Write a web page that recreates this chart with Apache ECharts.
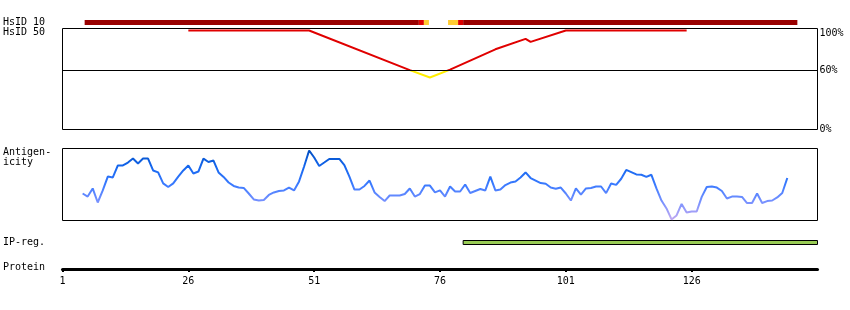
<!DOCTYPE html>
<html><head><meta charset="utf-8">
<script src="https://cdn.jsdelivr.net/npm/echarts@6/dist/echarts.min.js"></script>
<style>html,body{margin:0;padding:0;background:#fff}#c{width:850px;height:310px}</style>
</head><body><div id="c"></div>
<script>
// ---------------- data ----------------
const proteinMin = 1;
const proteinMax = 151;
const proteinTicks = [1, 26, 51, 76, 101, 126];

// HsID 10 identity bar segments (residue start / end / identity level)
const hsid10Start = [5.4, 71.8, 72.8, 77.6, 79.6, 80.6];
const hsid10End   = [71.8, 72.8, 73.8, 79.6, 80.6, 147.0];
const hsid10Level = ['high', 'mid', 'low', 'low', 'mid', 'high'];

// HsID 50 identity curve (residue, percent identity)
const hsid50Residue = [26, 50, 70, 74, 78, 87, 93, 94, 101, 125];
const hsid50Percent = [100, 100, 60, 52.5, 60.5, 81, 91.5, 88.5, 100, 100];
const identityTicks = [0, 60, 100];
const identityThreshold = 60;

// Antigenicity profile, one value per residue starting at antigenStart
const antigenStart = 5;
const antigenicity = [
  -0.5, -0.67, -0.22, -1.0, -0.33, 0.44, 0.39, 1.06, 1.06, 1.22,
  1.44, 1.17, 1.44, 1.44, 0.78, 0.67, 0.06, -0.14, 0.06, 0.44,
  0.78, 1.06, 0.61, 0.72, 1.44, 1.25, 1.33, 0.67, 0.42, 0.11,
  -0.08, -0.17, -0.19, -0.5, -0.83, -0.89, -0.86, -0.58, -0.44, -0.36,
  -0.33, -0.17, -0.33, 0.17, 1.0, 1.89, 1.5, 1.03, 1.22, 1.42,
  1.42, 1.42, 1.08, 0.44, -0.28, -0.28, -0.08, 0.22, -0.44, -0.69,
  -0.92, -0.61, -0.61, -0.61, -0.53, -0.22, -0.67, -0.53, -0.06, -0.06,
  -0.44, -0.33, -0.67, -0.11, -0.39, -0.39, 0.0, -0.47, -0.36, -0.25,
  -0.33, 0.44, -0.33, -0.28, -0.03, 0.11, 0.17, 0.39, 0.67, 0.36,
  0.22, 0.08, 0.04, -0.17, -0.24, -0.17, -0.5, -0.89, -0.22, -0.56,
  -0.22, -0.19, -0.11, -0.11, -0.48, 0.06, -0.02, 0.32, 0.81, 0.69,
  0.56, 0.54, 0.42, 0.54, -0.22, -0.89, -1.33, -1.94, -1.72, -1.08,
  -1.56, -1.5, -1.5, -0.69, -0.14, -0.11, -0.17, -0.36, -0.78, -0.67,
  -0.67, -0.69, -1.03, -1.03, -0.5, -1.03, -0.92, -0.89, -0.72, -0.47,
  0.36
];
const antigenMin = -2, antigenMax = 2;

// IP region
const ipStart = [80.6];
const ipEnd = [151];

// ---------------- styling ----------------
const FONT = '"DejaVu Sans Mono", "Liberation Mono", monospace';
const FS = 10;
const LEVEL_COLORS = { high: '#990000', mid: '#dd0000', low: '#ffcc33' };
const L = 62.5, R = 32.5;

function segRender(params, api) {
  const s = api.coord([api.value(0), 1]);
  const e = api.coord([api.value(1), 0]);
  return {
    type: 'rect',
    shape: { x: s[0], y: s[1], width: e[0] - s[0], height: e[1] - s[1] },
    style: api.style()
  };
}

function hiddenX(i) {
  return { type: 'value', gridIndex: i, min: proteinMin, max: proteinMax, show: false };
}
function hiddenY(i, min, max) {
  return { type: 'value', gridIndex: i, min: min, max: max, show: false };
}

const chart = echarts.init(document.getElementById('c'), null, { renderer: 'canvas' });

const option = {
  animation: false,
  backgroundColor: '#fff',
  textStyle: { fontFamily: FONT, fontSize: FS, color: '#000' },
  grid: [
    { left: L, right: R, top: 20, height: 5 },
    { left: L, right: R, top: 28.5, height: 101, show: true, borderColor: '#000', borderWidth: 1, backgroundColor: 'transparent' },
    { left: L, right: R, top: 148.5, height: 72, show: true, borderColor: '#000', borderWidth: 1, backgroundColor: 'transparent' },
    { left: L, right: R, top: 240.5, height: 4 },
    { left: L, right: R, top: 268, height: 1 }
  ],
  xAxis: [
    hiddenX(0), hiddenX(1), hiddenX(2), hiddenX(3),
    {
      type: 'value', gridIndex: 4, min: proteinMin, max: proteinMax, position: 'bottom',
      axisLine: { show: true, lineStyle: { color: '#000', width: 3 } },
      axisTick: { show: true, customValues: proteinTicks, length: 3, lineStyle: { color: '#000', width: 2 } },
      axisLabel: { show: true, customValues: proteinTicks, fontFamily: FONT, fontSize: FS, color: '#000', margin: 7 },
      splitLine: { show: false }
    }
  ],
  yAxis: [
    hiddenY(0, 0, 1),
    {
      type: 'value', gridIndex: 1, min: 0, max: 102, position: 'right',
      axisLine: { show: false }, axisTick: { show: false }, splitLine: { show: false },
      axisLabel: {
        show: true, customValues: identityTicks, margin: 2, fontFamily: FONT, fontSize: FS, color: '#000',
        formatter: v => v === 100 ? '{t|100%}' : v + '%',
        rich: { t: { fontFamily: FONT, fontSize: FS, color: '#000', padding: [5, 0, 0, 0] } }
      }
    },
    hiddenY(2, antigenMin, antigenMax),
    hiddenY(3, 0, 1),
    hiddenY(4, 0, 1)
  ],
  visualMap: [
    {
      type: 'piecewise', show: false, seriesIndex: 1, dimension: 1,
      pieces: [
        { min: 0, max: identityThreshold, color: '#ffee00' },
        { min: identityThreshold, max: 102, color: '#e00000' }
      ]
    },
    {
      type: 'continuous', show: false, seriesIndex: 2, dimension: 1,
      min: antigenMin, max: antigenMax,
      inRange: { color: ['#c4aaf0', '#7a92ff', '#3a7aff', '#1466ee', '#004cbc'] }
    }
  ],
  series: [
    {
      type: 'custom', xAxisIndex: 0, yAxisIndex: 0, renderItem: segRender,
      encode: { x: [0, 1] },
      data: hsid10Start.map((s, i) => ({ value: [s, hsid10End[i]], itemStyle: { color: LEVEL_COLORS[hsid10Level[i]] } }))
    },
    {
      type: 'line', xAxisIndex: 1, yAxisIndex: 1, showSymbol: false, symbol: 'none',
      lineStyle: { width: 2 },
      data: hsid50Residue.map((r, i) => [r, hsid50Percent[i]]),
      markLine: {
        silent: true, symbol: 'none', label: { show: false },
        lineStyle: { color: '#000', width: 1, type: 'solid' },
        data: [{ yAxis: identityThreshold }]
      }
    },
    {
      type: 'line', xAxisIndex: 2, yAxisIndex: 2, showSymbol: false, symbol: 'none',
      lineStyle: { width: 2 },
      data: antigenicity.map((v, i) => [antigenStart + i, v])
    },
    {
      type: 'custom', xAxisIndex: 3, yAxisIndex: 3, renderItem: segRender,
      encode: { x: [0, 1] },
      data: ipStart.map((s, i) => ({ value: [s, ipEnd[i]], itemStyle: { color: '#99cc55', borderColor: '#000', borderWidth: 1 } }))
    }
  ],
  graphic: [
    { type: 'text', left: 3, top: 17, style: { text: 'HsID 10', font: FS + 'px ' + FONT, fill: '#000' } },
    { type: 'text', left: 3, top: 27, style: { text: 'HsID 50', font: FS + 'px ' + FONT, fill: '#000' } },
    { type: 'text', left: 3, top: 147, style: { text: 'Antigen-\nicity', font: FS + 'px ' + FONT, fill: '#000', lineHeight: 10 } },
    { type: 'text', left: 3, top: 237, style: { text: 'IP-reg.', font: FS + 'px ' + FONT, fill: '#000' } },
    { type: 'text', left: 3, top: 262, style: { text: 'Protein', font: FS + 'px ' + FONT, fill: '#000' } }
  ]
};
chart.setOption(option);
</script>
</body></html>
